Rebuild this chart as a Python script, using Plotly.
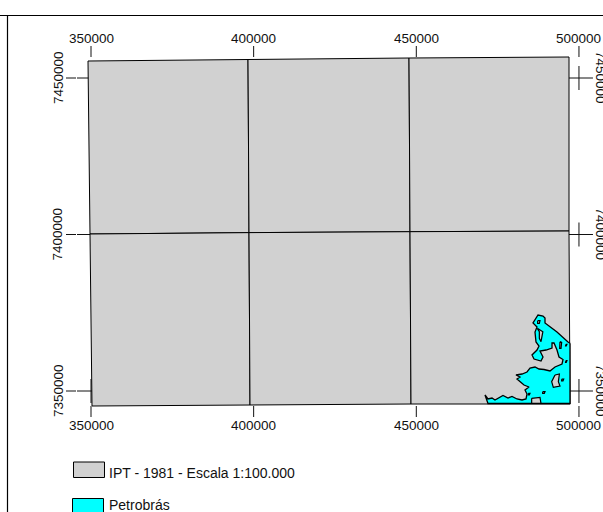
import plotly.graph_objects as go

W, H = 603, 512
x_ticks = [350000, 400000, 450000, 500000]
y_ticks = [7350000, 7400000, 7450000]
legend_labels = ["IPT - 1981 - Escala 1:100.000", "Petrobrás"]
GRAY, CYAN = "#d1d1d1", "#00ffff"

# sheet corners (map metres), rows top/middle/bottom, west to east
sheet_x = [[349078, 398262, 447753, 496937],
           [349693, 398570, 448060, 496937],
           [350307, 398877, 448368, 497245]]
sheet_y = [[7455435, 7455914, 7456394, 7456713],
           [7400161, 7400600, 7400900, 7401120],
           [7345208, 7345527, 7345847, 7345847]]

coast_x = [497245, 497245, 472038, 471116, 472038, 473268, 474190, 475727, 476649, 478186, 479415, 480952,
           482489, 483719, 484026, 483412, 484641, 483105, 480952, 481875, 480645, 482489, 484026, 484955,
           486486, 487715, 489252, 491097, 492634, 494785, 495092, 493864, 493248, 492330, 491715, 491715,
           489867, 488023, 488945, 488330, 486180, 485564, 487097, 487715, 486793, 486486, 487097, 485871,
           487410, 488945, 489560, 489560, 493248, 496630, 497245]
coast_y = [7365240, 7346006, 7346006, 7348722, 7347444, 7347765, 7347125, 7347923, 7348562, 7347765, 7348243, 7347444,
           7347125, 7347444, 7349042, 7350320, 7351278, 7351917, 7353834, 7354473, 7355112, 7355432, 7356071, 7357349,
           7357668, 7357029, 7356869, 7356390, 7357668, 7358627, 7360064, 7360863, 7363100, 7365336, 7365336, 7363739,
           7363100, 7362780, 7360863, 7359585, 7360224, 7361502, 7363100, 7364378, 7365656, 7368851, 7370448, 7371726,
           7374282, 7373963, 7373324, 7371726, 7368851, 7365656, 7365240]

# gray islands left inside the cyan area, as [x list], [y list]
islands = [
    ([492630, 493980, 493660, 494170, 492120, 491610], [7355110, 7355430, 7352980, 7351600, 7351170, 7352980]),
    ([485460, 488020, 488330, 485460], [7347650, 7347970, 7346060, 7346060]),
    ([487200, 488900, 488330, 487820, 487820], [7370020, 7368950, 7365760, 7366820, 7368950]),
    ([487300, 488020, 487820, 487300], [7372470, 7372470, 7371620, 7371620]),
    ([494170, 494680, 494480, 494070], [7365760, 7365550, 7363630, 7363630]),
    ([495990, 496300, 496090, 495890], [7364900, 7364900, 7364370, 7364370]),
    ([495990, 496300, 496090, 495890], [7359690, 7359690, 7359160, 7359160]),
    ([494680, 495300, 495090, 494680], [7353770, 7353770, 7353240, 7353240]),
    ([488840, 489560, 489350, 488840], [7349780, 7349780, 7349250, 7349250]),
    ([484440, 484950, 484750, 484440], [7349250, 7349250, 7348720, 7348720]),
]

# map units per screen pixel
ux, uy = 307.4, 319.5
x0_px, y0_px = 91, 391
xr = [350000 - x0_px * ux, 350000 + (W - x0_px) * ux]
yr = [7350000 - (H - y0_px) * uy, 7350000 + y0_px * uy]

fig = go.Figure()
BLACK = "#000000"

def line(xs, ys, width=1.0, color="#111111"):
    fig.add_trace(go.Scatter(x=xs, y=ys, mode="lines", line=dict(color=color, width=width),
                             hoverinfo="skip", showlegend=False))

# graticule crosses and outer ticks
for gx in (x_ticks[0], x_ticks[-1]):
    for gy in y_ticks:
        line([gx - 14 * ux, gx + 14 * ux], [gy, gy])
        line([gx, gx], [gy - 12 * uy, gy + 12 * uy])
for gx in x_ticks:
    line([gx, gx], [y_ticks[-1] + 21 * uy, y_ticks[-1] + 32 * uy])
    line([gx, gx], [y_ticks[0] - 15 * uy, y_ticks[0] - 26 * uy])
for gy in y_ticks:
    line([x_ticks[0] - 15 * ux, x_ticks[0] - 25 * ux], [gy, gy])

# sheets
for r in range(2):
    for c in range(3):
        xs = [sheet_x[r][c], sheet_x[r][c + 1], sheet_x[r + 1][c + 1], sheet_x[r + 1][c], sheet_x[r][c]]
        ys = [sheet_y[r][c], sheet_y[r][c + 1], sheet_y[r + 1][c + 1], sheet_y[r + 1][c], sheet_y[r][c]]
        fig.add_trace(go.Scatter(x=xs, y=ys, mode="lines", fill="toself", fillcolor=GRAY,
                                 line=dict(color=BLACK, width=1), hoverinfo="skip", showlegend=False))

# Petrobrás area
fig.add_trace(go.Scatter(x=coast_x, y=coast_y, mode="lines", fill="toself", fillcolor=CYAN,
                         line=dict(color=BLACK, width=1.3), hoverinfo="skip", showlegend=False))
for ix, iy in islands:
    fig.add_trace(go.Scatter(x=ix + ix[:1], y=iy + iy[:1], mode="lines", fill="toself", fillcolor=GRAY,
                             line=dict(color=BLACK, width=1.2), hoverinfo="skip", showlegend=False))

font = dict(family="Liberation Sans, Arial, sans-serif", size=13.5, color="#111111")
ann = []
for gx in x_ticks:
    for gy in (y_ticks[-1] + 40 * uy, y_ticks[0] - 34 * uy):
        ann.append(dict(x=gx, y=gy, text=str(gx), showarrow=False, xref="x", yref="y",
                        xanchor="center", yanchor="middle", font=font))
for gy in y_ticks:
    ann.append(dict(x=x_ticks[0] - 33 * ux, y=gy, text=str(gy), textangle=-90, showarrow=False, xref="x", yref="y",
                    xanchor="center", yanchor="middle", font=font))
    ann.append(dict(x=x_ticks[-1] + 22 * ux, y=gy, text=str(gy), textangle=90, showarrow=False, xref="x", yref="y",
                    xanchor="center", yanchor="middle", font=font))

def px(x): return x / W
def py(y): return 1 - y / H

ann.append(dict(x=px(107), y=py(473), xref="paper", yref="paper", text=legend_labels[0], showarrow=False,
                xanchor="left", yanchor="middle", font=dict(font, size=14)))
ann.append(dict(x=px(107), y=py(505), xref="paper", yref="paper", text=legend_labels[1], showarrow=False,
                xanchor="left", yanchor="middle", font=dict(font, size=14)))

shapes = [
    dict(type="line", xref="paper", yref="paper", x0=0, x1=1, y0=py(15.5), y1=py(15.5), line=dict(color=BLACK, width=1.2)),
    dict(type="line", xref="paper", yref="paper", x0=px(7.5), x1=px(7.5), y0=py(15.5), y1=0, line=dict(color=BLACK, width=1.2)),
    dict(type="rect", xref="paper", yref="paper", x0=px(73.5), x1=px(104.5), y0=py(462), y1=py(477.5),
         fillcolor=GRAY, line=dict(color=BLACK, width=1)),
    dict(type="rect", xref="paper", yref="paper", x0=px(72.5), x1=px(103.5), y0=py(498.5), y1=py(514),
         fillcolor=CYAN, line=dict(color=BLACK, width=1)),
]

axis = dict(visible=False, fixedrange=True)
fig.update_layout(width=W, height=H, margin=dict(l=0, r=0, t=0, b=0), paper_bgcolor="white", plot_bgcolor="white",
                  xaxis=dict(axis, range=xr), yaxis=dict(axis, range=yr), annotations=ann, shapes=shapes,
                  showlegend=False)
fig.write_html("out.html", config=dict(displayModeBar=False),
               post_script="document.body.style.margin='0';document.body.style.overflow='hidden';")
